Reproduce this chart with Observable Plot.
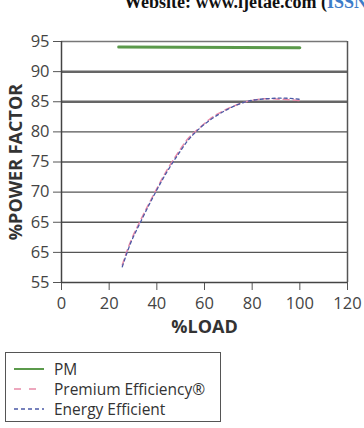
<!DOCTYPE html>
<html>
<head>
<meta charset="utf-8">
<script src="https://cdn.jsdelivr.net/npm/d3@7"></script>
<script src="https://cdn.jsdelivr.net/npm/@observablehq/plot@0.6"></script>
<style>
  html, body { margin: 0; padding: 0; background: #fff; }
  body { width: 364px; height: 428px; position: relative; overflow: hidden; font-family: "Open Sans", Lato, sans-serif; }
  #hdr { position: absolute; z-index: 2; left: 124px; top: -7px; font-family: "Liberation Serif", serif; font-weight: bold; font-size: 18px; line-height: 1; white-space: nowrap; color: #111; }
  #hdr span { color: #3d7cc9; }
  #chart { position: absolute; left: 0; top: 0; z-index: 1; }
  #legend { position: absolute; left: 5px; top: 352px; width: 216px; height: 70px; border: 1px solid #555; box-sizing: border-box; font-size: 15.5px; color: #333; }
  .row { position: absolute; left: 8px; height: 20px; display: flex; align-items: center; }
  .row svg { width: 30px; height: 6px; margin-right: 10px; }
  [aria-label="y-axis label"] text, [aria-label="x-axis label"] text { font-weight: bold; font-size: 18px; fill: #333; }
</style>
</head>
<body>
<div id="hdr">Website: www.ijetae.com (<span>ISSN</span></div>
<div id="chart"></div>
<div id="legend">
  <div class="row" style="top:6px"><svg><line x1="0" y1="3" x2="30" y2="3" stroke="#5b9a4b" stroke-width="2"/></svg>PM</div>
  <div class="row" style="top:26px"><svg><line x1="0" y1="3" x2="30" y2="3" stroke="#e88aa8" stroke-width="1.3" stroke-dasharray="7,8"/></svg>Premium Efficiency®</div>
  <div class="row" style="top:46px"><svg><line x1="0" y1="3" x2="30" y2="3" stroke="#4b5aa6" stroke-width="1.3" stroke-dasharray="4,3"/></svg>Energy Efficient</div>
</div>
<script>
// Data
const pmLoad = [24, 50, 75, 100];
const pmPF = [94.1, 94.05, 94.0, 93.95];

const peLoad = [25.5, 28, 34, 39.5, 44, 48.5, 52.5, 58, 62.5, 69.5, 76.5, 86, 93, 100];
const pePF = [57.9, 60.8, 66, 70.2, 73.5, 76.3, 78.6, 80.7, 82.2, 83.8, 84.9, 85.5, 85.4, 85.2];

const eeLoad = [25.5, 28, 34, 39.5, 44, 48.5, 52.5, 58, 62.5, 69.5, 76.5, 86, 93, 100];
const eePF = [57.6, 60.5, 65.7, 70.0, 73.2, 76.0, 78.3, 80.6, 82.0, 83.7, 84.9, 85.5, 85.6, 85.4];

const yTicks = [55, 60, 65, 70, 75, 80, 85, 90, 95];
const yTickLabels = ["55", "65", "65", "70", "75", "80", "85", "90", "95"];
const xTicks = [0, 20, 40, 60, 80, 100, 120];

const pm = pmLoad.map((x, i) => ({x, y: pmPF[i]}));
const pe = peLoad.map((x, i) => ({x, y: pePF[i]}));
const ee = eeLoad.map((x, i) => ({x, y: eePF[i]}));

const grid = yTicks.filter(v => v > 55 && v < 95);
const thick = [85, 90];

const chart = Plot.plot({
  width: 364,
  height: 340,
  marginLeft: 61,
  marginRight: 17,
  marginTop: 41,
  marginBottom: 58,
  style: { fontFamily: "'Open Sans', Lato, sans-serif", fontSize: "16.5px", color: "#444", background: "white" },
  x: { domain: [0, 120] },
  y: { domain: [55, 95] },
  marks: [
    Plot.ruleY(grid.filter(v => !thick.includes(v)), { stroke: "#555", strokeWidth: 1.3 }),
    Plot.ruleY(thick, { stroke: "#666", strokeWidth: 2.5 }),
    Plot.ruleY([95], { stroke: "#777", strokeWidth: 1.3 }),
    Plot.ruleX([120], { stroke: "#555", strokeWidth: 1.5 }),
    Plot.axisY({ ticks: yTicks, tickFormat: (d) => yTickLabels[yTicks.indexOf(d)], tickSize: 8, tickPadding: 4,
      label: "%POWER FACTOR", labelAnchor: "center", labelArrow: "none", labelOffset: 52, stroke: "#555" }),
    Plot.axisX({ ticks: xTicks, tickSize: 8, tickPadding: 7, label: "%LOAD", labelAnchor: "center", labelArrow: "none",
      labelOffset: 50, stroke: "#555" }),
    Plot.ruleX([0], { stroke: "#444", strokeWidth: 1.5 }),
    Plot.ruleY([55], { stroke: "#444", strokeWidth: 1.5 }),
    Plot.line(pm, { x: "x", y: "y", stroke: "#5b9a4b", strokeWidth: 3 }),
    Plot.line(pe, { x: "x", y: "y", stroke: "#e88aa8", strokeWidth: 1.5, strokeDasharray: "6,4", curve: "monotone-x" }),
    Plot.line(ee, { x: "x", y: "y", stroke: "#4b5aa6", strokeWidth: 1.3, strokeDasharray: "3,3", curve: "monotone-x" })
  ]
});
document.getElementById("chart").appendChild(chart);
</script>
</body>
</html>
